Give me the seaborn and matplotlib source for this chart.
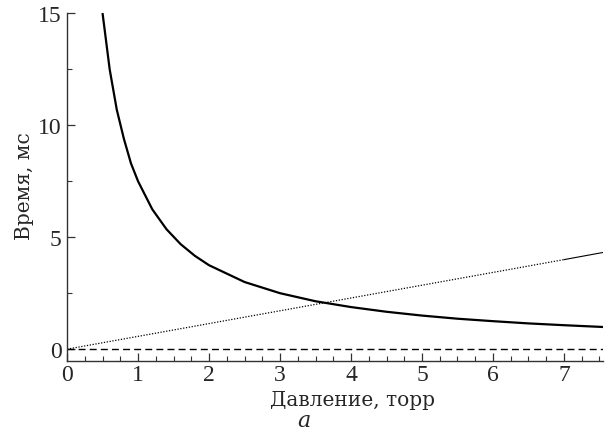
import matplotlib
matplotlib.use("Agg")
import matplotlib.pyplot as plt
import seaborn as sns
import pandas as pd
from matplotlib.ticker import MultipleLocator

sns.set_style("ticks")
plt.rcParams['font.family'] = ['Liberation Serif', 'DejaVu Serif']

# Thick solid curve (time vs pressure)
curve_x = [0.5, 0.6, 0.7, 0.8, 0.9, 1.0, 1.2, 1.4, 1.6, 1.8, 2.0, 2.5, 3.0, 3.5,
           4.0, 4.5, 5.0, 5.5, 6.0, 6.5, 7.0, 7.55]
curve_y = [15.0, 12.5, 10.7, 9.4, 8.3, 7.5, 6.25, 5.36, 4.69, 4.17, 3.75, 3.0, 2.5, 2.14,
           1.88, 1.67, 1.5, 1.36, 1.25, 1.15, 1.07, 0.99]

# Dotted rising line and its thin solid tail
dot_x = [0.0, 7.0]
dot_y = [0.0, 4.0]
tail_x = [7.0, 7.55]
tail_y = [4.0, 4.32]

# Dashed zero line
dash_x = [0.0, 7.55]
dash_y = [0.0, 0.0]

x_ticks = [0, 1, 2, 3, 4, 5, 6, 7]
y_ticks = [0, 5, 10, 15]

fig = plt.figure(figsize=(6.10, 4.39), dpi=100)
ax = fig.add_axes([0.110, 0.1754, 0.8785, 0.7926])

sns.lineplot(data=pd.DataFrame({"x": curve_x, "y": curve_y}), x="x", y="y", ax=ax,
             color="black", linewidth=1.6, sort=False)
sns.lineplot(data=pd.DataFrame({"x": dot_x, "y": dot_y}), x="x", y="y", ax=ax,
             color="black", linewidth=0.9, linestyle=(0, (1, 1.3)), sort=False)
sns.lineplot(data=pd.DataFrame({"x": tail_x, "y": tail_y}), x="x", y="y", ax=ax,
             color="black", linewidth=0.8, sort=False)
sns.lineplot(data=pd.DataFrame({"x": dash_x, "y": dash_y}), x="x", y="y", ax=ax,
             color="black", linewidth=1.0, linestyle=(0, (5, 3)), sort=False)

ax.set_xlim(0, 7.55)
ax.set_ylim(-0.53, 15.02)
ax.set_xticks(x_ticks)
ax.set_yticks(y_ticks)
ax.xaxis.set_minor_locator(MultipleLocator(0.25))
ax.yaxis.set_minor_locator(MultipleLocator(2.5))
ax.tick_params(which='major', direction='in', length=6, width=0.9, labelsize=17, pad=2,
               color='#333333')
ax.tick_params(which='minor', direction='in', length=3.5, width=0.8, color='#333333')
ax.tick_params(axis='y', pad=4)

sns.despine(ax=ax, top=True, right=True)
for s in ['left', 'bottom']:
    ax.spines[s].set_linewidth(1.0)
    ax.spines[s].set_color('#333333')

ax.set_xlabel("Давление, торр", fontsize=14.5, family='DejaVu Serif')
ax.set_ylabel("Время, мс", fontsize=14.5, family='DejaVu Serif')
ax.xaxis.set_label_coords(0.532, -0.083)
ax.yaxis.set_label_coords(-0.062, 0.505)

fig.text(0.498, 0.028, "а", fontsize=16, style='italic', family='DejaVu Serif',
         ha='center', va='baseline')

fig.savefig("out.png", dpi=100)
